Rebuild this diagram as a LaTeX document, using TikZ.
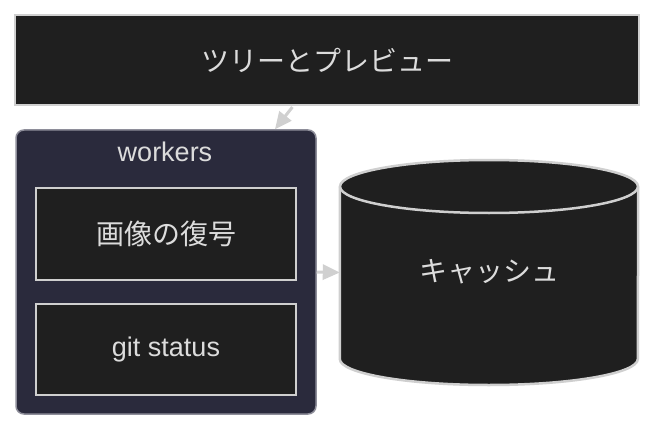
\documentclass[tikz,border=0pt]{standalone}
\usepackage{fontspec}
\setmainfont{Liberation Sans}
\newfontfamily\cjk{Noto Sans CJK JP}
\usetikzlibrary{arrows.meta}
\definecolor{boxfill}{HTML}{1F1F1F}
\definecolor{boxline}{HTML}{CFCFCF}
\definecolor{clusterfill}{HTML}{2A2A3C}
\definecolor{clusterline}{HTML}{8E8E9A}
\definecolor{txt}{HTML}{DCDCDC}
\definecolor{arrowcol}{HTML}{D0D0D0}
\begin{document}
\begin{tikzpicture}[x=1pt,y=1pt,
  every node/.style={font=\fontsize{27}{31}\selectfont, text=txt},
  cjktext/.style={font=\fontsize{28}{32}\selectfont\cjk},
  procbox/.style={draw=boxline, fill=boxfill, line width=2.5pt, inner sep=0pt},
  clusterbox/.style={draw=clusterline, fill=clusterfill, line width=1.5pt, rounded corners=8pt, inner sep=0pt},
  arr/.style={draw=arrowcol, line width=3pt, -{Triangle[length=17pt,width=15pt]}}]
\useasboundingbox (0,0) rectangle (656,432);
\fill[white] (0,0) rectangle (656,432);
% top box
\node[procbox, cjktext, minimum width=624pt, minimum height=90pt] (top) at (327,372) {ツリーとプレビュー};
% cluster
\node[clusterbox, minimum width=300pt, minimum height=284pt] (workers) at (166,160) {};
\node[anchor=center] (wlabel) at (165,280) {workers};
\node[procbox, cjktext, minimum width=260pt, minimum height=92pt] (decode) at (166,198) {画像の復号};
\node[procbox, minimum width=260pt, minimum height=91pt] (git) at (166,82.5) {git status};
% cache cylinder (bounding node)
\node[minimum width=298pt, minimum height=252pt, inner sep=0pt] (cache) at (489,159.5) {};
\fill[boxfill] (cache.west |- 0,245.5) -- (cache.west |- 0,73)
  arc[start angle=180,end angle=360,x radius=149,y radius=26]
  -- (cache.east |- 0,245.5)
  arc[start angle=0,end angle=180,x radius=149,y radius=26.5] -- cycle;
\draw[boxline, line width=2.5pt] (cache.west |- 0,245.5) -- (cache.west |- 0,73)
  arc[start angle=180,end angle=360,x radius=149,y radius=26]
  -- (cache.east |- 0,245.5);
\draw[boxline, line width=2.5pt] (489,245.5) ellipse[x radius=149,y radius=26.5];
\node[cjktext] (cachelabel) at (489,160) {キャッシュ};
% connectors
\draw[arr, shorten <=1pt] ([xshift=-34pt]top.south) -- ([xshift=109pt]workers.north);
\draw[arr] (workers.east) -- (cache.west);
\end{tikzpicture}
\end{document}
